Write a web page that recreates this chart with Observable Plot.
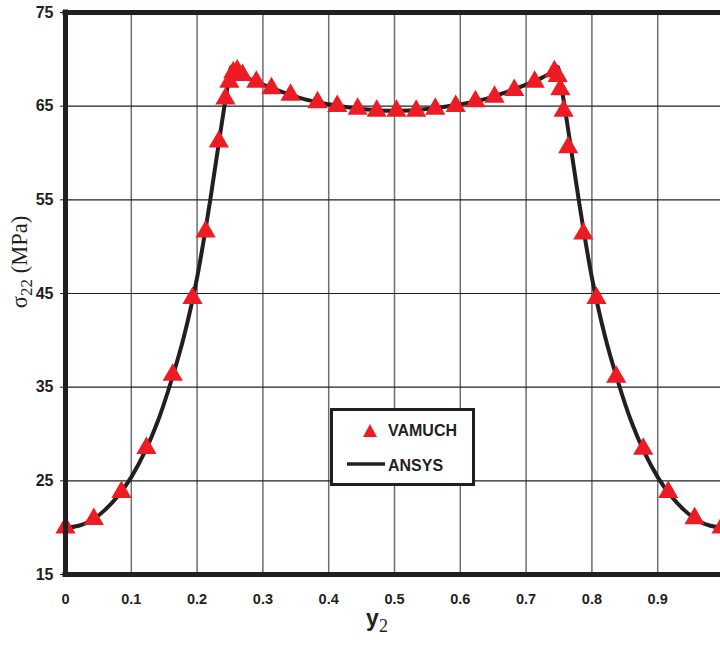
<!DOCTYPE html>
<html>
<head>
<meta charset="utf-8">
<script src="https://cdn.jsdelivr.net/npm/d3@7"></script>
<script src="https://cdn.jsdelivr.net/npm/@observablehq/plot@0.6"></script>
<style>
  html, body { margin: 0; padding: 0; background: #fff; overflow: hidden; }
  #wrap { position: relative; width: 720px; height: 648px; }
  #legend {
    position: absolute; left: 330px; top: 408px; width: 139px; height: 72px;
    border: 3.5px solid #231f20; background: #fff; box-sizing: content-box;
    font-family: "Liberation Sans", Arial, sans-serif; font-weight: bold; font-size: 16px; color: #231f20;
  }
  .lg { position: absolute; left: 0; width: 139px; height: 24px; }
  .lg span { position: absolute; left: 55px; top: 2px; }
  .lg svg { position: absolute; left: 0; top: 0; }
</style>
</head>
<body>
<div id="wrap">
  <div id="chart"></div>
  <div id="legend">
    <div class="lg" style="top:9px"><svg width="55" height="24"><path d="M37,4 L44,17 L30,17 Z" fill="#ed1c24"/></svg><span>VAMUCH</span></div>
    <div class="lg" style="top:44px"><svg width="55" height="24"><line x1="14" y1="9" x2="52" y2="9" stroke="#231f20" stroke-width="3.5"/></svg><span>ANSYS</span></div>
  </div>
</div>
<script>
// VAMUCH results (triangles)
const vamuchX = [0, 0.043, 0.085, 0.123, 0.163, 0.193, 0.213, 0.233, 0.243, 0.249, 0.255, 0.261, 0.269,
  0.290, 0.313, 0.342, 0.383, 0.413, 0.444, 0.473, 0.503, 0.533, 0.562, 0.593, 0.623, 0.652, 0.682,
  0.713, 0.743, 0.748, 0.752, 0.757, 0.764, 0.787, 0.807, 0.837, 0.878, 0.916, 0.956, 0.997];
const vamuchY = [20.0, 20.9, 23.8, 28.5, 36.3, 44.5, 51.6, 61.2, 65.8, 67.6, 68.6, 68.8, 68.3,
  67.6, 66.9, 66.2, 65.4, 65.0, 64.7, 64.5, 64.5, 64.5, 64.7, 65.0, 65.5, 66.0, 66.7,
  67.6, 68.7, 68.2, 66.8, 64.5, 60.6, 51.4, 44.5, 36.1, 28.4, 23.8, 21.0, 20.0];

// ANSYS results (line)
const ansysX = [0, 0.02, 0.04, 0.06, 0.08, 0.10, 0.12, 0.14, 0.16, 0.18, 0.20, 0.22, 0.235, 0.245, 0.252,
  0.26, 0.28, 0.30, 0.33, 0.36, 0.40, 0.45, 0.50, 0.55, 0.60, 0.64, 0.67, 0.70, 0.72, 0.74, 0.748,
  0.755, 0.765, 0.78, 0.80, 0.82, 0.84, 0.86, 0.88, 0.90, 0.92, 0.94, 0.96, 0.98, 1.0];
const ansysY = [20.0, 20.2, 20.8, 21.9, 23.4, 25.4, 28.0, 31.3, 35.5, 40.4, 46.7, 55.0, 62.0, 66.5, 69.2,
  68.7, 67.9, 67.3, 66.5, 65.8, 65.2, 64.7, 64.5, 64.7, 65.2, 65.8, 66.5, 67.3, 67.9, 68.7, 69.2,
  66.5, 62.0, 55.0, 46.7, 40.4, 35.5, 31.3, 28.0, 25.4, 23.4, 21.9, 20.8, 20.2, 20.0];

const xTicks = [0, 0.1, 0.2, 0.3, 0.4, 0.5, 0.6, 0.7, 0.8, 0.9, 1];
const xTickLabels = ["0", "0.1", "0.2", "0.3", "0.4", "0.5", "0.6", "0.7", "0.8", "0.9", "1"];
const yTicks = [15, 25, 35, 45, 55, 65, 75];
const xGrid = [0.1, 0.2, 0.3, 0.4, 0.5, 0.6, 0.7, 0.8, 0.9];
const yGrid = [25, 35, 45, 55, 65];

const vamuch = vamuchX.map((x, i) => ({x, y: vamuchY[i]}));
const ansys = ansysX.map((x, i) => ({x, y: ansysY[i]}));

const plot = Plot.plot({
  width: 720,
  height: 648,
  marginLeft: 65,
  marginTop: 12,
  marginRight: 0,
  marginBottom: 74,
  style: {fontFamily: "'Liberation Sans', Arial, sans-serif", fontWeight: "bold", fontSize: "15px", color: "#231f20", background: "#fff"},
  x: {domain: [0, 1], range: [65, 723]},
  y: {domain: [15, 75], range: [574, 12]},
  marks: [
    Plot.ruleX(xGrid, {stroke: "#6d6e71", strokeWidth: 1.5}),
    Plot.ruleY(yGrid, {stroke: "#231f20", strokeWidth: 1.2}),
    Plot.line(ansys, {x: "x", y: "y", stroke: "#231f20", strokeWidth: 4, curve: "monotone-x"}),
    Plot.dot(vamuch, {x: "x", y: "y", symbol: "triangle", fill: "#ed1c24", r: 7.5}),
    Plot.ruleY([15, 75], {stroke: "#231f20", strokeWidth: 5, strokeLinecap: "square"}),
    Plot.ruleX([0, 1], {stroke: "#231f20", strokeWidth: 5, strokeLinecap: "square"}),
    Plot.axisY(yTicks, {tickSize: 5, tickPadding: 7, stroke: "#231f20", label: null, fontSize: 16}),
    Plot.axisX(xTicks, {tickSize: 0, tickPadding: 19, label: null, fontSize: 14.5, tickFormat: (d, i) => xTickLabels[i]})
  ]
});
document.getElementById("chart").appendChild(plot);

const svg = d3.select(plot);
// y-axis title
const yt = svg.append("text")
  .attr("transform", "translate(27,262) rotate(-90)")
  .attr("text-anchor", "middle")
  .attr("font-family", "'Liberation Serif', 'Times New Roman', serif")
  .attr("font-weight", "normal")
  .attr("font-size", 22.5)
  .attr("fill", "#231f20");
yt.append("tspan").text("σ");
yt.append("tspan").attr("font-size", 17).attr("dy", 5).text("22");
yt.append("tspan").attr("dy", -5).text(" (MPa)");
// x-axis title
const xt = svg.append("text")
  .attr("x", 377).attr("y", 626)
  .attr("fill", "#231f20");
xt.append("tspan").attr("font-family", "'Liberation Sans', Arial, sans-serif").attr("font-weight", "bold").attr("font-size", 23).text("y");
xt.append("tspan").attr("font-family", "'Liberation Serif', 'Times New Roman', serif").attr("font-weight", "normal").attr("font-size", 18).attr("dy", 6).text("2");
</script>
</body>
</html>
